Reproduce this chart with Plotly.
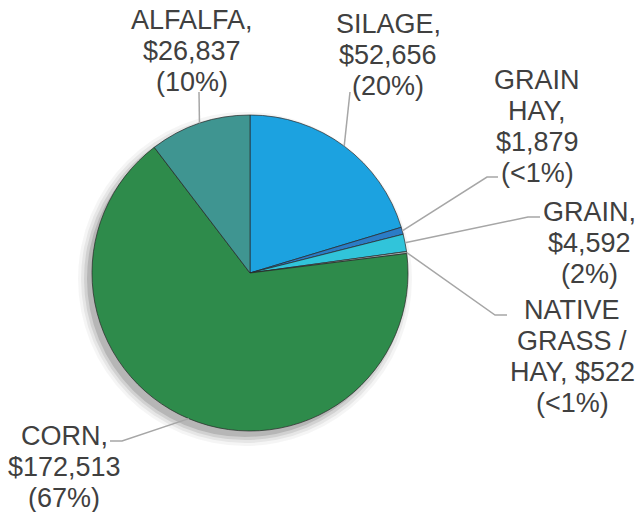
import math
import plotly.graph_objects as go

# ---- data ----
categories = ["SILAGE", "GRAIN HAY", "GRAIN", "NATIVE GRASS / HAY", "CORN", "ALFALFA"]
values = [52656, 1879, 4592, 522, 172513, 26837]
label_lines = [
    ["SILAGE,", "$52,656", "(20%)"],
    ["GRAIN", "HAY,", "$1,879", "(<1%)"],
    ["GRAIN,", "$4,592", "(2%)"],
    ["NATIVE", "GRASS /", "HAY, $522", "(<1%)"],
    ["CORN,", "$172,513", "(67%)"],
    ["ALFALFA,", "$26,837", "(10%)"],
]
colors = ["#1ca2e0", "#2b7cc6", "#31c4da", "#a9b8b8", "#2e8b4b", "#3f9591"]

# ---- layout constants (pixels) ----
W, H = 641, 512
CX, CY, R = 250, 273, 158
# label block: center x, first-line center y
label_pos = [(388, 24), (537, 80), (589, 212), (572, 310), (64, 436), (192, 20)]
LINE_STEP = 31
# leader: list of points after the slice edge point
leaders = [
    [(350, 92)],
    [(487, 177), (498, 177)],
    [(528, 217), (540, 217)],
    [(495, 315), (507, 315)],
    [(122, 441), (110, 441)],
    [(199, 92)],
]


def px(x):
    return x / W


def py(y):
    return 1 - y / H


fig = go.Figure(
    go.Pie(
        labels=categories,
        values=values,
        sort=False,
        direction="clockwise",
        rotation=0,
        textinfo="none",
        hoverinfo="label+value+percent",
        marker=dict(colors=colors, line=dict(color="rgba(40,40,40,0.7)", width=1)),
        domain=dict(x=[px(CX - R), px(CX + R)], y=[py(CY + R), py(CY - R)]),
        showlegend=False,
    )
)

total = sum(values)
cum = 0
shapes = []
annotations = []

# soft drop shadow behind the pie (offset down-left)
for k, a in enumerate([0.04, 0.06, 0.09, 0.13]):
    g = 9 - 3 * k
    shapes.append(dict(type="circle", xref="paper", yref="paper", layer="below",
                       x0=px(CX - R - 5 - g), x1=px(CX + R - 5 + g),
                       y0=py(CY + R + 6 + g), y1=py(CY - R + 6 - g),
                       line=dict(width=0), fillcolor=f"rgba(0,0,0,{a})"))

for i, v in enumerate(values):
    mid = (cum + v / 2) / total * 2 * math.pi
    cum += v
    ex = CX + R * math.sin(mid)
    ey = CY - R * math.cos(mid)
    pts = [(ex, ey)] + leaders[i]
    path = "M " + " L ".join(f"{px(x):.5f},{py(y):.5f}" for x, y in pts)
    shapes.append(dict(type="path", xref="paper", yref="paper", path=path,
                       line=dict(color="#a6a6a6", width=1.5)))
    lx, ly = label_pos[i]
    for j, t in enumerate(label_lines[i]):
        annotations.append(dict(
            x=px(lx), y=py(ly + j * LINE_STEP), xref="paper", yref="paper",
            text=t, showarrow=False, xanchor="center", yanchor="middle",
            font=dict(family="Liberation Sans, Arial, sans-serif", size=27, color="#404040"),
        ))

fig.update_layout(
    width=W, height=H,
    margin=dict(l=0, r=0, t=0, b=0),
    paper_bgcolor="white",
    plot_bgcolor="white",
    shapes=shapes,
    annotations=annotations,
)

fig.write_html(
    "out.html",
    config={"displayModeBar": False},
    post_script="document.body.style.margin='0';document.body.style.overflow='hidden';",
)
